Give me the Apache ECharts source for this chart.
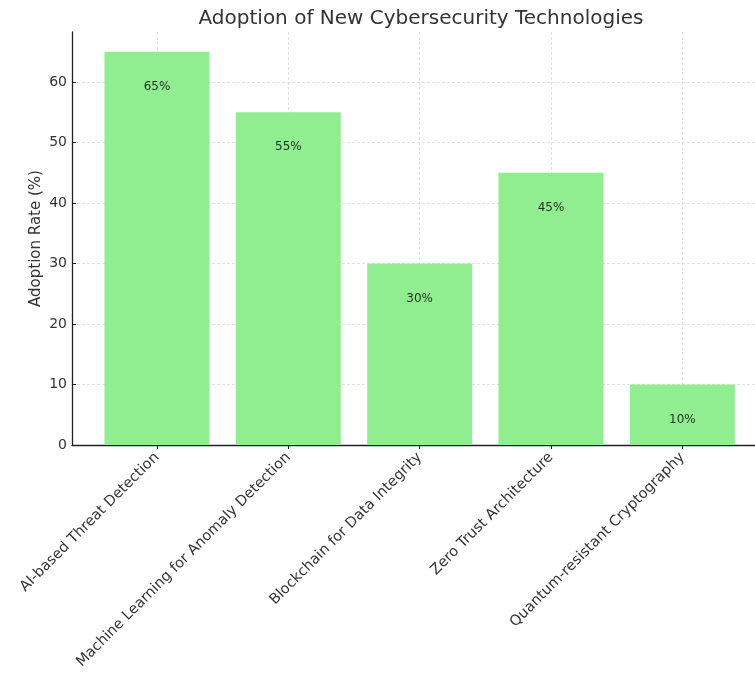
<!DOCTYPE html>
<html><head><meta charset="utf-8">
<script src="https://cdn.jsdelivr.net/npm/echarts@6/dist/echarts.min.js"></script>
<style>html,body{margin:0;padding:0;background:#fff}#c{width:755px;height:675px}</style>
</head><body><div id="c"></div>
<script>
const categories = ["AI-based Threat Detection", "Machine Learning for Anomaly Detection", "Blockchain for Data Integrity", "Zero Trust Architecture", "Quantum-resistant Cryptography"];
const adoption = [65, 55, 30, 45, 10];
const yTicks = [0, 10, 20, 30, 40, 50, 60];

const positions = categories.map((_, i) => i);
const chart = echarts.init(document.getElementById('c'));
const font = 'DejaVu Sans';
chart.setOption({
  animation: false,
  backgroundColor: '#fff',
  textStyle: { fontFamily: font },
  title: {
    text: 'Adoption of New Cybersecurity Technologies',
    left: 416, top: 4, textAlign: 'center',
    textStyle: { fontFamily: font, fontSize: 20, fontWeight: 'normal', color: '#333' }
  },
  grid: { left: 72, right: 0, top: 32, bottom: 230, containLabel: false },
  xAxis: {
    type: 'value', min: -0.647, max: 4.553,
    axisLine: { show: true, onZero: false, lineStyle: { color: '#222', width: 1.3 } },
    axisTick: { show: true, length: 4, customValues: positions, lineStyle: { color: '#222' } },
    axisLabel: {
      customValues: positions, rotate: 45, margin: 10,
      fontFamily: font, fontSize: 14.5, color: '#333',
      formatter: v => categories[Math.round(v)]
    },
    splitLine: { show: true, lineStyle: { color: '#d9d9d9', type: [3, 2], width: 0.8 } }
  },
  yAxis: {
    type: 'value', min: 0, max: 68.25,
    name: 'Adoption Rate (%)', nameLocation: 'middle', nameGap: 28, nameRotate: 90,
    nameMoveOverlap: false,
    nameTextStyle: { fontFamily: font, fontSize: 15, color: '#333' },
    axisLine: { show: true, onZero: false, lineStyle: { color: '#222', width: 1.3 } },
    axisTick: { show: true, inside: true, length: 4, customValues: yTicks, lineStyle: { color: '#222' } },
    axisLabel: { customValues: yTicks, fontFamily: font, fontSize: 14, color: '#333', margin: 5 },
    splitLine: { show: true, lineStyle: { color: '#d9d9d9', type: [3, 2], width: 0.8 } }
  },
  series: [{
    type: 'bar',
    barWidth: 105,
    data: adoption.map((v, i) => [i, v]),
    itemStyle: { color: '#90EE90' },
    label: {
      show: true, position: 'insideTop', distance: 29,
      fontFamily: font, fontSize: 12, color: '#1e2e1e',
      formatter: p => p.value[1] + '%'
    }
  }]
});
</script></body></html>
